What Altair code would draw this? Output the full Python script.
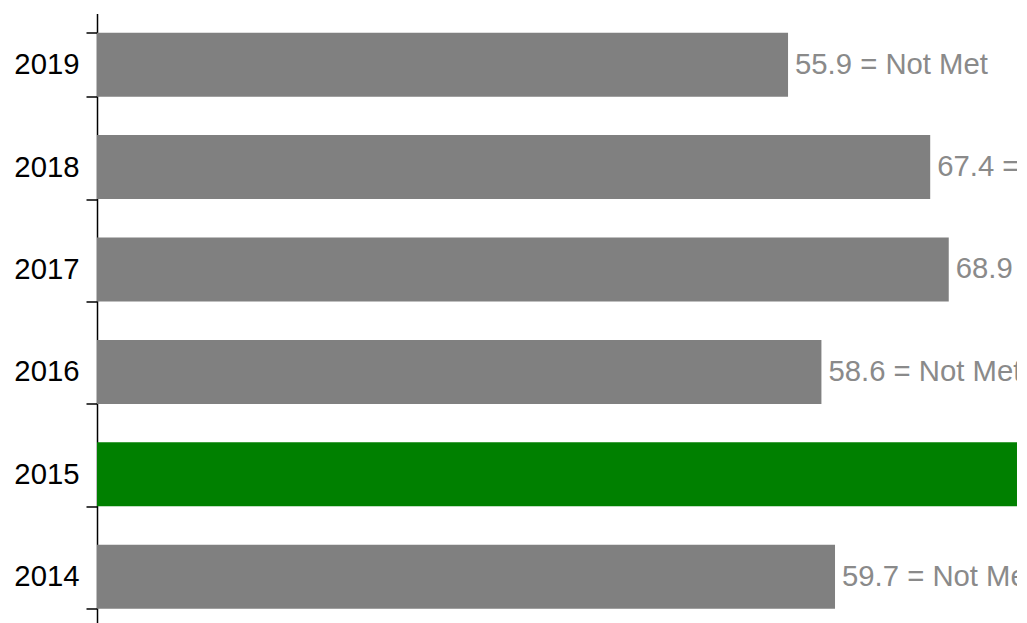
import altair as alt
import pandas as pd

years = ["2019", "2018", "2017", "2016", "2015", "2014"]
values = [55.9, 67.4, 68.9, 58.6, 78.0, 59.7]
statuses = ["Not Met", "Not Met", "Not Met", "Not Met", "Met", "Not Met"]

df = pd.DataFrame({"year": years, "value": values, "status": statuses})
df["label"] = [f"{v} = {s}" for v, s in zip(values, statuses)]

FONT = "Liberation Sans"

y_enc = alt.Y(
    "year:N",
    sort=years,
    title=None,
    scale=alt.Scale(paddingInner=0.375, paddingOuter=0.1875),
    axis=alt.Axis(
        tickBand="extent",
        domainColor="black",
        tickColor="black",
        tickSize=11,
        labelPadding=7,
        labelFontSize=29.3,
        labelFont=FONT,
        labelColor="black",
        domainWidth=1.5,
        tickWidth=1.5,
    ),
)
x_enc = alt.X(
    "value:Q",
    title=None,
    axis=None,
    scale=alt.Scale(domain=[0, 74.42], nice=False, zero=True),
)

bars = alt.Chart(df).mark_bar(clip=True).encode(
    y=y_enc,
    x=x_enc,
    color=alt.condition(alt.datum.year == "2015", alt.value("#008000"), alt.value("#808080")),
)

text = alt.Chart(df).mark_text(
    clip=True, align="left", baseline="middle", dx=7, fontSize=29.3, font=FONT, color="#8a8a8a"
).encode(y=y_enc, x=x_enc, text="label:N")

chart = (
    alt.layer(bars, text)
    .properties(
        width=920,
        height=614.4,
        autosize=alt.AutoSizeParams(type="none"),
        padding={"left": 89, "top": 5.5, "right": 2, "bottom": 0},
    )
    .configure_view(stroke=None)
    .configure_axis(grid=False)
)

chart.save("out.html", embed_options={"renderer": "svg", "actions": False})
